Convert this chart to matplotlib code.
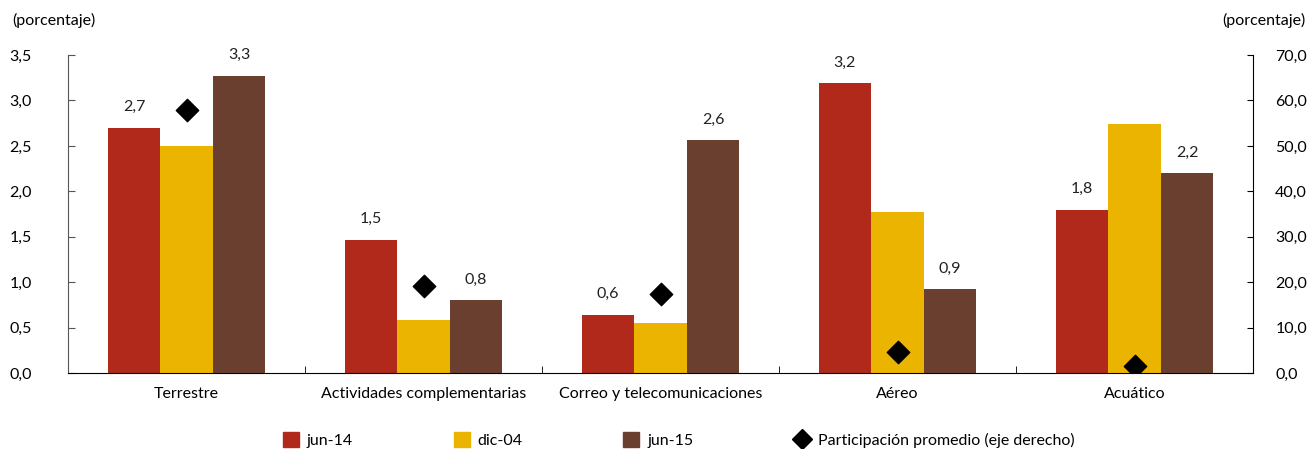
import numpy as np
import matplotlib.pyplot as plt
from matplotlib.lines import Line2D
from matplotlib.patches import Patch

plt.rcParams['font.family'] = ['Lato', 'DejaVu Sans']

categorias = ['Terrestre', 'Actividades complementarias', 'Correo y telecomunicaciones',
              'Aéreo', 'Acuático']
series = ['jun-14', 'dic-04', 'jun-15']
jun14 = [2.70, 1.47, 0.64, 3.19, 1.80]
dic04 = [2.50, 0.58, 0.55, 1.77, 2.74]
jun15 = [3.27, 0.80, 2.56, 0.92, 2.20]
participacion = [57.9, 19.2, 17.3, 4.6, 1.5]

colores = ['#B0291A', '#EBB400', '#6B3F2F']
fs = 11.5

fig = plt.figure(figsize=(13.08, 4.49), dpi=100)
ax = fig.add_axes([0.052, 0.169, 0.906, 0.7085])
ax2 = ax.twinx()

x = np.arange(len(categorias))
w = 0.222
valores = [jun14, dic04, jun15]
for i, (vals, c) in enumerate(zip(valores, colores)):
    pos = x + (i - 1) * w
    ax.bar(pos, vals, width=w, color=c, edgecolor='none', zorder=2)
    if i != 1:
        for p, v in zip(pos, vals):
            ax.text(p, v + 0.15, '{:.1f}'.format(v).replace('.', ','), ha='center', va='bottom',
                    fontsize=fs, color='#222222')

ax2.scatter(x, participacion, marker='D', s=130, color='black', zorder=5)

ax.set_xlim(-0.5, 4.5)
ax.set_ylim(0, 3.5)
ax2.set_ylim(0, 70)
ax.set_yticks(np.arange(0, 3.51, 0.5))
ax.set_yticklabels(['{:.1f}'.format(v).replace('.', ',') for v in np.arange(0, 3.51, 0.5)])
ax2.set_yticks(np.arange(0, 70.1, 10))
ax2.set_yticklabels(['{:.1f}'.format(v).replace('.', ',') for v in np.arange(0, 70.1, 10)])

ax.set_xticks(x)
ax.set_xticklabels(categorias)
ax.set_xticks(np.arange(0.5, 4.5, 1), minor=True)
ax.tick_params(axis='x', which='major', length=0, pad=10, labelsize=fs)
ax.tick_params(axis='x', which='minor', direction='in', length=5, color='black')
ax.tick_params(axis='y', direction='in', length=5, pad=26, labelsize=fs, color='#555555')
ax2.tick_params(axis='y', direction='in', length=4, pad=16, labelsize=fs)

for a in (ax, ax2):
    a.spines['top'].set_visible(False)
ax.spines['left'].set_color('#555555')
ax2.spines['left'].set_visible(False)
ax.spines['right'].set_visible(False)
ax2.spines['right'].set_color('black')
ax2.spines['bottom'].set_visible(False)
ax.spines['bottom'].set_color('black')

fig.text(0.009, 0.955, '(porcentaje)', fontsize=fs, ha='left', va='center')
fig.text(0.998, 0.955, '(porcentaje)', fontsize=fs, ha='right', va='center')

handles = [Patch(color=c, label=s) for c, s in zip(colores, series)]
handles.append(Line2D([], [], marker='D', color='black', linestyle='none', markersize=10,
                      label='Participación promedio (eje derecho)'))
fig.legend(handles=handles, loc='center', bbox_to_anchor=(0.519, 0.02), ncol=4, frameon=False,
           fontsize=fs, handlelength=1.0, handleheight=1.0, handletextpad=0.5, columnspacing=6.3)

fig.savefig('out.png', dpi=100)
